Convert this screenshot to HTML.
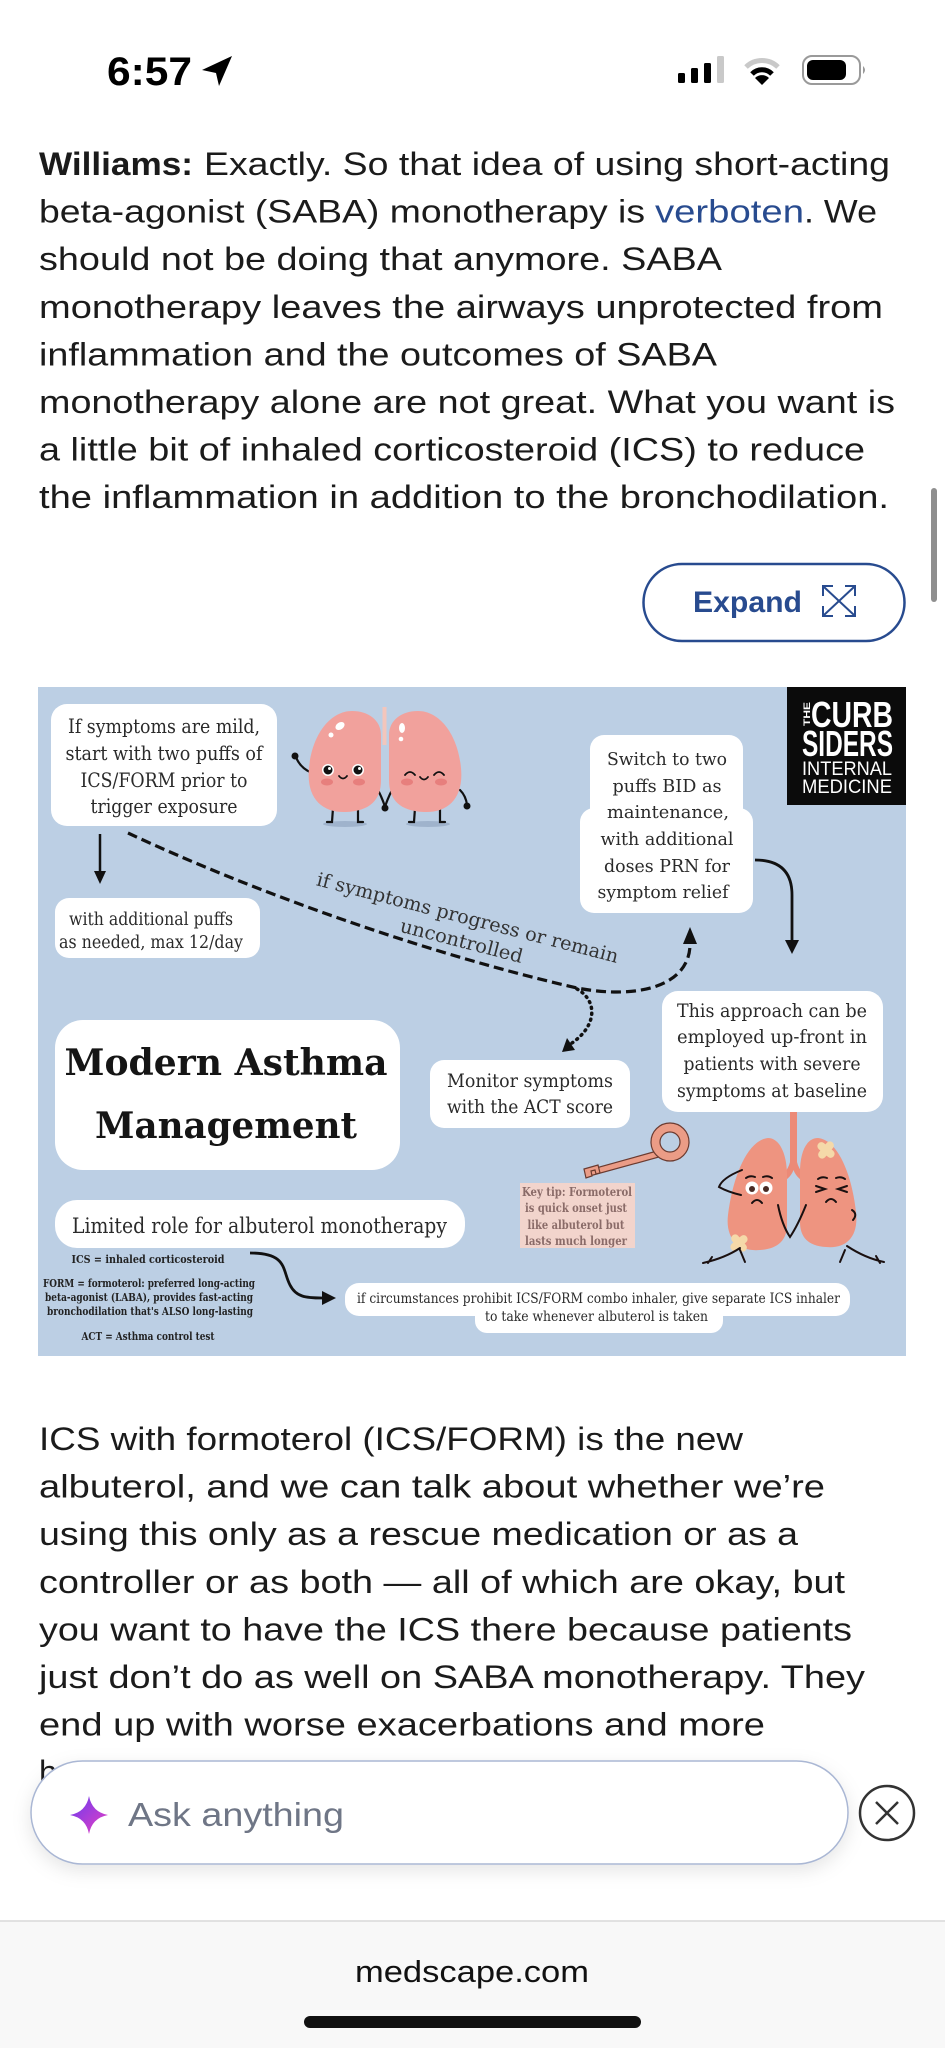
<!DOCTYPE html>
<html><head><meta charset="utf-8"><style>
html,body{margin:0;padding:0;background:#fff;}
body{width:945px;height:2048px;overflow:hidden;}
svg{display:block;}
.p{font-family:"Liberation Sans",Arial,sans-serif;font-size:32.5px;fill:#1b1b1b;}
.s{font-family:"DejaVu Serif","Liberation Serif",serif;fill:#2a2a2a;}
</style></head><body>
<svg width="945" height="2048" viewBox="0 0 945 2048" xmlns="http://www.w3.org/2000/svg">
<defs>
<linearGradient id="spk" x1="0" y1="0" x2="1" y2="1">
<stop offset="0" stop-color="#6a3cf0"/><stop offset="1" stop-color="#e83fc2"/>
</linearGradient>
<filter id="sh" x="-10%" y="-40%" width="120%" height="190%">
<feDropShadow dx="0" dy="6" stdDeviation="9" flood-color="#000" flood-opacity="0.10"/>
</filter>
</defs>

<!-- status bar -->
<text x="107" y="85" font-family="Liberation Sans,Arial,sans-serif" font-weight="700" font-size="40" textLength="85" lengthAdjust="spacingAndGlyphs" fill="#000">6:57</text>
<polygon points="232,56 202,70 216,73 219,86" fill="#000"/>
<rect x="678" y="73" width="7" height="10" rx="1.5" fill="#000"/>
<rect x="691" y="68" width="7" height="15" rx="1.5" fill="#000"/>
<rect x="704" y="63" width="7" height="20" rx="1.5" fill="#000"/>
<rect x="717" y="56" width="7" height="27" rx="1.5" fill="#c9c9c9"/>
<path d="M746,67 A23,23 0 0 1 778,67" stroke="#c9c9c9" stroke-width="5" fill="none"/>
<path d="M752,74 A14,14 0 0 1 772,74" stroke="#000" stroke-width="5" fill="none"/>
<path d="M762,85 L755,78 A10,10 0 0 1 769,78 Z" fill="#000"/>
<rect x="803" y="56" width="57" height="28" rx="9" stroke="#9a9a9a" stroke-width="2" fill="none"/>
<rect x="807" y="60" width="39" height="20" rx="6" fill="#000"/>
<path d="M863,66 Q867,70 863,74 Z" fill="#9a9a9a"/>

<!-- paragraph 1 -->
<text class="p" x="39" y="175" font-weight="700" textLength="154" lengthAdjust="spacingAndGlyphs">Williams:</text>
<text class="p" x="204" y="175" textLength="686" lengthAdjust="spacingAndGlyphs">Exactly. So that idea of using short-acting</text>
<text class="p" x="39" y="222.6" textLength="606" lengthAdjust="spacingAndGlyphs">beta-agonist (SABA) monotherapy is</text>
<text class="p" x="655" y="222.6" textLength="149" lengthAdjust="spacingAndGlyphs" style="fill:#284b8f">verboten</text>
<text class="p" x="804" y="222.6" textLength="73" lengthAdjust="spacingAndGlyphs">. We</text>
<text class="p" x="39" y="270.2" textLength="683" lengthAdjust="spacingAndGlyphs">should not be doing that anymore. SABA</text>
<text class="p" x="39" y="317.8" textLength="844" lengthAdjust="spacingAndGlyphs">monotherapy leaves the airways unprotected from</text>
<text class="p" x="39" y="365.4" textLength="678" lengthAdjust="spacingAndGlyphs">inflammation and the outcomes of SABA</text>
<text class="p" x="39" y="413" textLength="856" lengthAdjust="spacingAndGlyphs">monotherapy alone are not great. What you want is</text>
<text class="p" x="39" y="460.6" textLength="826" lengthAdjust="spacingAndGlyphs">a little bit of inhaled corticosteroid (ICS) to reduce</text>
<text class="p" x="39" y="508.2" textLength="850" lengthAdjust="spacingAndGlyphs">the inflammation in addition to the bronchodilation.</text>

<!-- scrollbar -->
<rect x="931" y="488" width="6" height="114" rx="3" fill="#8f8f8f"/>

<!-- expand button -->
<rect x="643.5" y="564" width="261" height="77" rx="38.5" fill="#fff" stroke="#284b8f" stroke-width="2.5"/>
<text x="693" y="612" font-family="Liberation Sans,Arial,sans-serif" font-weight="700" font-size="30" textLength="109" lengthAdjust="spacingAndGlyphs" fill="#284b8f">Expand</text>
<g stroke="#284b8f" stroke-width="2" fill="none">
<line x1="824" y1="587" x2="854" y2="615"/><line x1="854" y1="587" x2="824" y2="615"/>
<polyline points="823,596 823,586 833,586"/><polyline points="845,586 855,586 855,596"/>
<polyline points="823,606 823,616 833,616"/><polyline points="845,616 855,616 855,606"/>
</g>

<!-- infographic -->
<rect x="38" y="687" width="868" height="669" fill="#bccfe4"/>

<!-- box 1 -->
<rect x="51" y="704" width="226" height="122" rx="16" fill="#fff"/>
<g class="s" font-size="20" text-anchor="middle">
<text x="164" y="733" textLength="192" lengthAdjust="spacingAndGlyphs">If symptoms are mild,</text>
<text x="164" y="760" textLength="197" lengthAdjust="spacingAndGlyphs">start with two puffs of</text>
<text x="164" y="787" textLength="167" lengthAdjust="spacingAndGlyphs">ICS/FORM prior to</text>
<text x="164" y="813" textLength="147" lengthAdjust="spacingAndGlyphs">trigger exposure</text>
</g>
<line x1="100" y1="834" x2="100" y2="873" stroke="#111" stroke-width="2.5"/>
<polygon points="100,884 94,871 106,871" fill="#111"/>

<!-- box 2 -->
<rect x="55" y="898" width="205" height="60" rx="14" fill="#fff"/>
<text class="s" x="151" y="925" font-size="17.5" text-anchor="middle" textLength="164" lengthAdjust="spacingAndGlyphs">with additional puffs</text>
<text class="s" x="151" y="948" font-size="17.5" text-anchor="middle" textLength="184" lengthAdjust="spacingAndGlyphs">as needed, max 12/day</text>

<!-- happy lungs -->
<g>
<ellipse cx="345" cy="824" rx="22" ry="3" fill="#9fb3cc"/>
<ellipse cx="428" cy="824" rx="22" ry="3" fill="#9fb3cc"/>
<line x1="384.5" y1="707" x2="384.5" y2="745" stroke="#f3c6bc" stroke-width="4"/>
<g stroke="#111" stroke-width="2.2" fill="none" stroke-linecap="round">
<path d="M333,808 L332,822 L327,822"/><path d="M358,808 L358,822 L363,822"/>
<path d="M415,808 L414,822 L409,822"/><path d="M440,808 L440,822 L445,822"/>
<path d="M312,773 Q300,768 296,757"/>
<path d="M378,790 Q383,800 385,807 Q387,800 392,790"/>
<path d="M460,790 Q466,796 467,805"/>
</g>
<circle cx="295" cy="756" r="3.5" fill="#111"/>
<circle cx="385" cy="808" r="3.5" fill="#111"/>
<circle cx="467" cy="806" r="3.5" fill="#111"/>
<path d="M352,711 C330,711 312,735 309,768 C306,798 322,813 346,812 C370,811 381,800 381,780 L381,735 C381,720 368,711 352,711 Z" fill="#f1a19c"/>
<path d="M418,711 C440,711 458,735 461,768 C464,798 448,813 424,812 C400,811 389,800 389,780 L389,735 C389,720 402,711 418,711 Z" fill="#f1a19c"/>
<ellipse cx="340" cy="726" rx="5" ry="3.5" fill="#fff" transform="rotate(-35 340 726)"/>
<circle cx="331" cy="735" r="2.5" fill="#fff"/>
<ellipse cx="402" cy="728" rx="3" ry="5" fill="#fff"/>
<circle cx="401" cy="739" r="2.3" fill="#fff"/>
<circle cx="328" cy="770" r="6" fill="#fff"/><circle cx="328" cy="770" r="4.5" fill="#111"/><circle cx="329.5" cy="768.5" r="1.5" fill="#fff"/>
<circle cx="358" cy="770" r="6" fill="#fff"/><circle cx="358" cy="770" r="4.5" fill="#111"/><circle cx="359.5" cy="768.5" r="1.5" fill="#fff"/>
<ellipse cx="327" cy="782" rx="6" ry="3.5" fill="#e77f7d"/><ellipse cx="359" cy="782" rx="6" ry="3.5" fill="#e77f7d"/>
<ellipse cx="407" cy="782" rx="6" ry="3.5" fill="#e77f7d"/><ellipse cx="441" cy="782" rx="6" ry="3.5" fill="#e77f7d"/>
<g stroke="#111" stroke-width="1.8" fill="none" stroke-linecap="round">
<path d="M339,776 Q343,781 347,776"/>
<path d="M420,777 Q424,782 428,777"/>
<path d="M405,775 Q410,769 415,775"/>
<path d="M434,775 Q439,769 444,775"/>
</g>
</g>

<!-- logo -->
<rect x="787" y="687" width="119" height="118" fill="#0b0b0b"/>
<text transform="translate(810,726) rotate(-90)" font-family="Liberation Sans,Arial,sans-serif" font-weight="700" font-size="9" fill="#fff" textLength="24" lengthAdjust="spacingAndGlyphs">THE</text>
<text x="811" y="727" font-family="Liberation Sans,Arial,sans-serif" font-weight="700" font-size="36" fill="#fff" textLength="82" lengthAdjust="spacingAndGlyphs">CURB</text>
<text x="802" y="756" font-family="Liberation Sans,Arial,sans-serif" font-weight="700" font-size="36" fill="#fff" textLength="91" lengthAdjust="spacingAndGlyphs">SIDERS</text>
<text x="802" y="775" font-family="Liberation Sans,Arial,sans-serif" font-size="19" fill="#fff" textLength="90" lengthAdjust="spacingAndGlyphs">INTERNAL</text>
<text x="802" y="793" font-family="Liberation Sans,Arial,sans-serif" font-size="19" fill="#fff" textLength="90" lengthAdjust="spacingAndGlyphs">MEDICINE</text>

<!-- switch box -->
<rect x="590" y="735" width="153" height="100" rx="14" fill="#fff"/>
<rect x="580" y="808" width="173" height="105" rx="14" fill="#fff"/>
<g class="s" font-size="18" text-anchor="middle">
<text x="667" y="765" textLength="120" lengthAdjust="spacingAndGlyphs">Switch to two</text>
<text x="667" y="792" textLength="109" lengthAdjust="spacingAndGlyphs">puffs BID as</text>
<text x="668" y="818" textLength="122" lengthAdjust="spacingAndGlyphs">maintenance,</text>
<text x="667" y="845" textLength="133" lengthAdjust="spacingAndGlyphs">with additional</text>
<text x="667" y="872" textLength="126" lengthAdjust="spacingAndGlyphs">doses PRN for</text>
<text x="663" y="898" textLength="131" lengthAdjust="spacingAndGlyphs">symptom relief</text>
</g>
<path d="M755,860 C780,860 792,872 792,895 L792,942" stroke="#111" stroke-width="2.8" fill="none"/>
<polygon points="792,954 785,940 799,940" fill="#111"/>

<!-- dashed path -->
<path d="M128,833 C250,890 420,952 577,988 C640,1000 690,985 690,944" stroke="#111" stroke-width="3.2" stroke-dasharray="10 5" fill="none"/>
<polygon points="690,927 683,944 697,944" fill="#111"/>
<path d="M577,989 C597,1000 598,1025 572,1043" stroke="#111" stroke-width="3.5" stroke-dasharray="1 5" stroke-linecap="round" fill="none"/>
<polygon points="562,1052 575,1050 567,1038" fill="#111"/>
<g transform="translate(466,924) rotate(14.5)">
<text class="s" x="0" y="0" font-size="19" text-anchor="middle" textLength="311" lengthAdjust="spacingAndGlyphs" style="fill:#333">if symptoms progress or remain</text>
<text class="s" x="0" y="24" font-size="19" text-anchor="middle" textLength="126" lengthAdjust="spacingAndGlyphs" style="fill:#333">uncontrolled</text>
</g>

<!-- this approach -->
<rect x="662" y="991" width="221" height="121" rx="16" fill="#fff"/>
<g class="s" font-size="18.5" text-anchor="middle">
<text x="772" y="1017" textLength="190" lengthAdjust="spacingAndGlyphs">This approach can be</text>
<text x="772" y="1043" textLength="190" lengthAdjust="spacingAndGlyphs">employed up-front in</text>
<text x="772" y="1070" textLength="177" lengthAdjust="spacingAndGlyphs">patients with severe</text>
<text x="772" y="1097" textLength="190" lengthAdjust="spacingAndGlyphs">symptoms at baseline</text>
</g>

<!-- monitor -->
<rect x="430" y="1060" width="200" height="68" rx="14" fill="#fff"/>
<text class="s" x="530" y="1087" font-size="18.5" text-anchor="middle" textLength="166" lengthAdjust="spacingAndGlyphs">Monitor symptoms</text>
<text class="s" x="530" y="1113" font-size="18.5" text-anchor="middle" textLength="166" lengthAdjust="spacingAndGlyphs">with the ACT score</text>

<!-- title -->
<rect x="55" y="1020" width="345" height="150" rx="28" fill="#fff"/>
<text class="s" x="226" y="1075" font-size="36" font-weight="700" text-anchor="middle" textLength="323" lengthAdjust="spacingAndGlyphs" style="fill:#151515">Modern Asthma</text>
<text class="s" x="226" y="1138" font-size="36" font-weight="700" text-anchor="middle" textLength="262" lengthAdjust="spacingAndGlyphs" style="fill:#151515">Management</text>

<!-- limited role -->
<rect x="55" y="1200" width="410" height="48" rx="22" fill="#fff"/>
<text class="s" x="72" y="1233" font-size="21" textLength="375" lengthAdjust="spacingAndGlyphs">Limited role for albuterol monotherapy</text>

<!-- legend -->
<g class="s" font-size="11.5" font-weight="700" text-anchor="middle" style="fill:#222">
<text x="148" y="1263" textLength="153" lengthAdjust="spacingAndGlyphs">ICS = inhaled corticosteroid</text>
<text x="149" y="1287" textLength="212" lengthAdjust="spacingAndGlyphs">FORM = formoterol: preferred long-acting</text>
<text x="149" y="1301" textLength="208" lengthAdjust="spacingAndGlyphs">beta-agonist (LABA), provides fast-acting</text>
<text x="150" y="1315" textLength="206" lengthAdjust="spacingAndGlyphs">bronchodilation that's ALSO long-lasting</text>
<text x="148" y="1340" textLength="133" lengthAdjust="spacingAndGlyphs">ACT = Asthma control test</text>
</g>
<path d="M250,1253 C288,1253 282,1270 290,1285 C296,1297 306,1298 322,1298" stroke="#111" stroke-width="2.8" fill="none"/>
<polygon points="336,1298 322,1291 322,1305" fill="#111"/>

<!-- bottom box -->
<rect x="345" y="1283" width="505" height="33" rx="14" fill="#fff"/>
<rect x="475" y="1300" width="248" height="33" rx="12" fill="#fff"/>
<text class="s" x="357" y="1303" font-size="13.5" textLength="483" lengthAdjust="spacingAndGlyphs">if circumstances prohibit ICS/FORM combo inhaler, give separate ICS inhaler</text>
<text class="s" x="485" y="1321" font-size="13.5" textLength="223" lengthAdjust="spacingAndGlyphs">to take whenever albuterol is taken</text>

<!-- key -->
<g stroke="#6b3b30" stroke-width="1.2">
<path d="M657,1151 L585,1171 L586,1177 L659,1157 Z" fill="#eb9c86"/>
<path d="M584,1169 L598,1165 L600,1173 L596,1174 L595,1170 L591,1171 L592,1176 L586,1178 Z" fill="#eb9c86"/>
<circle cx="670" cy="1142" r="19" fill="#eb9c86"/>
<circle cx="670" cy="1142" r="10" fill="#bccfe4"/>
</g>
<rect x="520" y="1183" width="115" height="65" fill="#f2d4cc"/>
<g class="s" font-size="12" font-weight="700" text-anchor="middle" style="fill:#8a6b68">
<text x="577" y="1196" textLength="110" lengthAdjust="spacingAndGlyphs">Key tip: Formoterol</text>
<text x="576" y="1212" textLength="102" lengthAdjust="spacingAndGlyphs">is quick onset just</text>
<text x="576" y="1229" textLength="97" lengthAdjust="spacingAndGlyphs">like albuterol but</text>
<text x="576" y="1245" textLength="102" lengthAdjust="spacingAndGlyphs">lasts much longer</text>
</g>

<!-- sad lungs -->
<g>
<path d="M790,1112 L797,1112 L797,1162 Q800,1175 815,1180 L812,1186 Q797,1180 793.5,1170 Q790,1180 775,1186 L772,1180 Q787,1175 790,1162 Z" fill="#ec8a77"/>
<path d="M768,1138 C748,1140 733,1175 728,1215 C725,1240 740,1252 760,1250 C778,1249 787,1240 787,1225 L787,1175 C787,1155 780,1138 768,1138 Z" fill="#ee9480"/>
<path d="M818,1138 C838,1140 852,1175 856,1212 C859,1238 845,1249 826,1247 C808,1246 800,1237 800,1222 L800,1172 C800,1153 806,1138 818,1138 Z" fill="#ee9480"/>
<g fill="#f5d9a9">
<rect x="816" y="1146" width="20" height="8" rx="4" transform="rotate(40 826 1150)"/>
<rect x="816" y="1146" width="20" height="8" rx="4" transform="rotate(-50 826 1150)"/>
<rect x="729" y="1239" width="20" height="8" rx="4" transform="rotate(-40 739 1243)"/>
<rect x="729" y="1239" width="20" height="8" rx="4" transform="rotate(50 739 1243)"/>
</g>
<circle cx="752" cy="1188" r="6.5" fill="#fff"/><circle cx="752" cy="1189" r="3" fill="#4a2b25"/>
<circle cx="766" cy="1188" r="6.5" fill="#fff"/><circle cx="766" cy="1189" r="3" fill="#4a2b25"/>
<g stroke="#1a1010" stroke-width="2" fill="none" stroke-linecap="round">
<path d="M746,1178 Q750,1175 755,1177"/><path d="M763,1177 Q768,1175 772,1178"/>
<path d="M752,1203 Q757,1197 762,1203"/>
<path d="M742,1170 Q722,1178 719,1187 Q728,1192 741,1195"/>
<path d="M778,1205 Q782,1225 790,1237 Q798,1225 806,1205"/>
<path d="M816,1186 L825,1189 L816,1192"/><path d="M847,1186 L838,1189 L847,1192"/>
<path d="M818,1179 Q822,1176 827,1178"/><path d="M836,1178 Q841,1176 845,1179"/>
<path d="M826,1202 Q831,1196 836,1202"/>
<path d="M852,1210 Q858,1214 853,1220"/>
<path d="M740,1248 Q725,1258 703,1263 M712,1257 L708,1263 M740,1250 L745,1262"/>
<path d="M847,1246 Q865,1258 884,1262 M876,1256 L880,1263 M845,1250 L840,1262"/>
</g>
</g>

<!-- paragraph 2 -->
<text class="p" x="39" y="1450" textLength="704" lengthAdjust="spacingAndGlyphs">ICS with formoterol (ICS/FORM) is the new</text>
<text class="p" x="39" y="1497.6" textLength="786" lengthAdjust="spacingAndGlyphs">albuterol, and we can talk about whether we’re</text>
<text class="p" x="39" y="1545.2" textLength="759" lengthAdjust="spacingAndGlyphs">using this only as a rescue medication or as a</text>
<text class="p" x="39" y="1592.8" textLength="806" lengthAdjust="spacingAndGlyphs">controller or as both — all of which are okay, but</text>
<text class="p" x="39" y="1640.4" textLength="813" lengthAdjust="spacingAndGlyphs">you want to have the ICS there because patients</text>
<text class="p" x="39" y="1688" textLength="826" lengthAdjust="spacingAndGlyphs">just don’t do as well on SABA monotherapy. They</text>
<text class="p" x="39" y="1735.6" textLength="726" lengthAdjust="spacingAndGlyphs">end up with worse exacerbations and more</text>
<text class="p" x="39" y="1783.2">hospitalizations.</text>
<rect x="57" y="1752" width="888" height="40" fill="#fff"/>

<!-- ask bar -->
<rect x="31" y="1761" width="817" height="103" rx="51.5" fill="#fff" stroke="#aab7d4" stroke-width="1.5" filter="url(#sh)"/>
<path d="M89,1796 Q92,1812 108,1815 Q92,1818 89,1834 Q86,1818 70,1815 Q86,1812 89,1796 Z" fill="url(#spk)"/>
<text x="128" y="1826" font-family="Liberation Sans,Arial,sans-serif" font-size="33" fill="#6f7686" textLength="216" lengthAdjust="spacingAndGlyphs">Ask anything</text>
<circle cx="887" cy="1813" r="27" fill="none" stroke="#333" stroke-width="2.5"/>
<path d="M876,1802 L898,1824 M898,1802 L876,1824" stroke="#333" stroke-width="2.5"/>

<!-- bottom bar -->
<rect x="0" y="1921" width="945" height="127" fill="#f8f8f8"/>
<line x1="0" y1="1921" x2="945" y2="1921" stroke="#d9d9d9" stroke-width="1.5"/>
<text x="472" y="1982" text-anchor="middle" font-family="Liberation Sans,Arial,sans-serif" font-size="31" fill="#111" textLength="234" lengthAdjust="spacingAndGlyphs">medscape.com</text>
<rect x="304" y="2016" width="337" height="12" rx="6" fill="#111"/>
</svg>
</body></html>
